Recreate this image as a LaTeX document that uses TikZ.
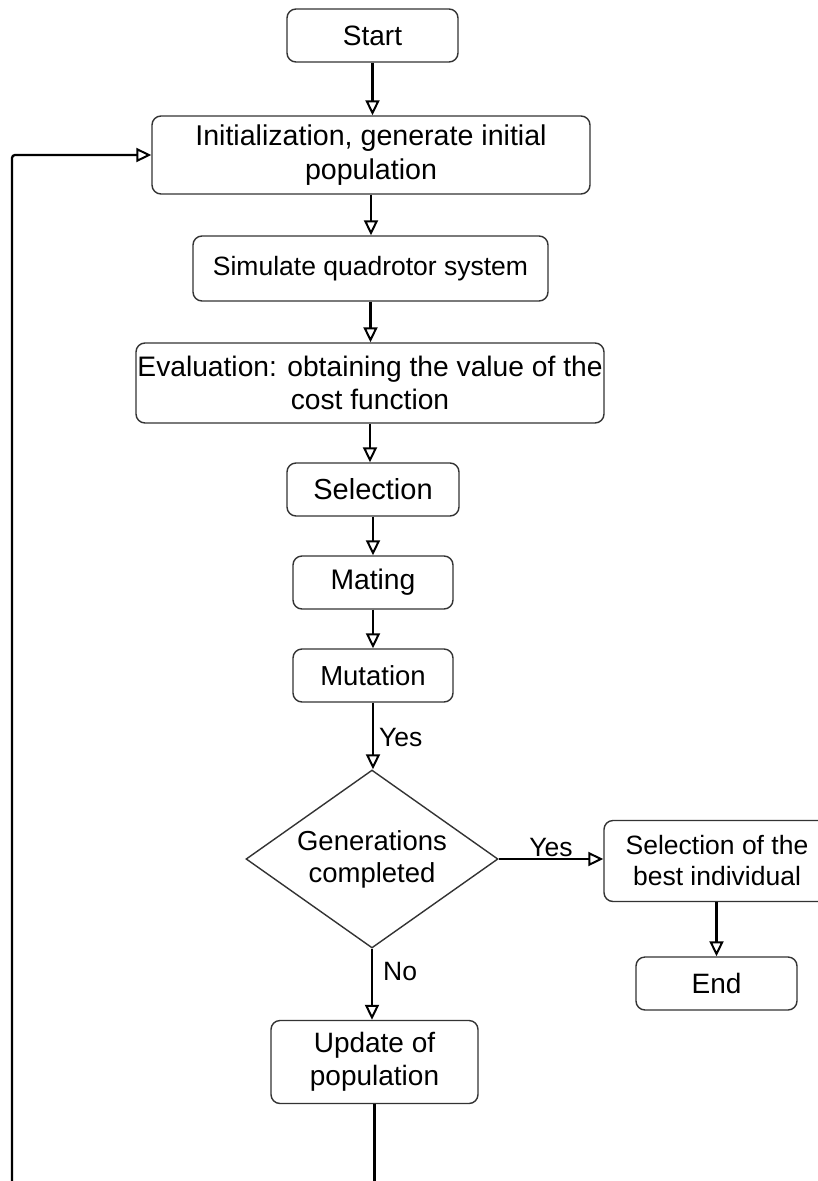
\documentclass[tikz,border=0pt]{standalone}
\usepackage{fontspec}
\setmainfont{Liberation Sans}
\usetikzlibrary{arrows.meta,shapes.geometric}
\tikzset{
  box/.style={draw=black!80, line width=1.4pt, rounded corners=9pt, fill=white,
    align=center, inner sep=0pt, font=\fsz{28}},
  conn/.style={line width=2.3pt, -{Triangle[open, length=15pt, width=14pt, line width=2pt]}},
  plain/.style={line width=2.3pt},
  lbl/.style={font=\fsz{26.5}, inner sep=0pt},
}
\newcommand{\fsz}[1]{\fontsize{#1pt}{#1pt}\selectfont\baselineskip=1.17em}
\begin{document}
\begin{tikzpicture}[x=1pt,y=-1pt]
\clip (0,0) rectangle (818,1181);
\fill[white] (0,0) rectangle (818,1181);
\node[box, minimum width=171pt, minimum height=53pt] (start) at (372.5,35.5) {Start};
\node[box, minimum width=438pt, minimum height=78pt, font=\fsz{28.6}] (init) at (371,155) {Initialization, generate initial\\population};
\node[box, minimum width=355pt, minimum height=65pt, font=\fsz{26.5}] (sim) at (370.5,268.5) {Simulate quadrotor system};
\node[box, minimum width=468pt, minimum height=80pt, font=\fsz{28.2}] (eval) at (370,383) {Evaluation: obtaining the value of the\\cost function};
\node[box, minimum width=172pt, minimum height=53pt, font=\fsz{29}] (sel) at (373,489.5) {Selection};
\node[box, minimum width=160pt, minimum height=53pt, font=\fsz{28.3}] (mat) at (373,582.5) {Mating};
\node[box, minimum width=160pt, minimum height=53pt, font=\fsz{27.5}] (mut) at (373,675.5) {Mutation};
\node[draw=black!80, line width=1.4pt, shape=diamond, aspect=1.416, inner sep=0pt,
  minimum width=252pt, minimum height=178pt, align=center, font=\fsz{27.5}] (gen) at (372,859) {Generations\\completed};
\node[box, minimum width=226pt, minimum height=81pt, font=\fsz{26.5}] (best) at (717,861) {Selection of the\\best individual};
\node[box, minimum width=161pt, minimum height=53pt, font=\fsz{28}] (end) at (716.5,983.5) {End};
\node[box, minimum width=207pt, minimum height=83pt, font=\fsz{28}] (upd) at (374.5,1062) {Update of\\population};
\coordinate (updbot) at (374.5,1185);
\coordinate (loopbot) at (12,1185);
\coordinate (loopcorner) at (12,155);
\draw[conn] (start.south) -- (start.south |- init.north);
\draw[conn] (init.south) -- (init.south |- sim.north);
\draw[conn] (sim.south) -- (sim.south |- eval.north);
\draw[conn] (eval.south) -- (eval.south |- sel.north);
\draw[conn] (sel.south) -- (sel.south |- mat.north);
\draw[conn] (mat.south) -- (mat.south |- mut.north);
\draw[conn] (mut.south) -- node[lbl, anchor=west, pos=0.52, xshift=5pt] {Yes} (mut.south |- gen.north);
\draw[conn] (gen.east) -- node[lbl, anchor=south, pos=0.5, yshift=1pt] {Yes} (gen.east -| best.west);
\draw[conn] (end.north |- best.south) -- (end.north);
\draw[conn] (gen.south) -- node[lbl, anchor=west, pos=0.32, xshift=10pt] {No} (gen.south |- upd.north);
\draw[plain] (upd.south) -- (updbot);
\draw[conn, rounded corners=3pt] (loopbot) -- (loopcorner) -- (init.west |- loopcorner);
\end{tikzpicture}
\end{document}
